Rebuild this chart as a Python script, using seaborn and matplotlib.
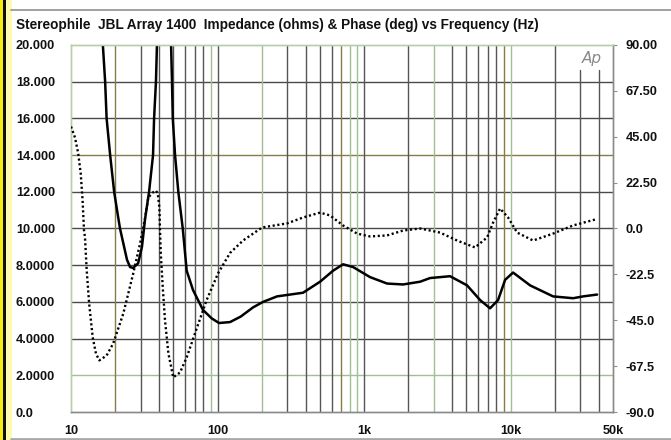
import matplotlib
matplotlib.use("Agg")
import matplotlib.pyplot as plt
import seaborn as sns
from matplotlib.patches import Rectangle
from matplotlib.lines import Line2D

# ---------------- data ----------------
imp_freq = [14.8, 16.5, 17.1, 17.5, 18.5, 19.7, 20.9, 21.6, 24.1, 25.3, 26.5, 28.7,
            30.5, 32.0, 34.1, 36.3, 36.9, 38.0, 38.6, 43.1, 48.2, 48.9, 49.5, 51.3,
            54.0, 57.9, 61.6, 68.0, 79.6, 91.3, 102.4, 121.7, 144, 174.7, 204.4,
            254.7, 312.6, 383.4, 500.9, 614.5, 719, 841, 1099, 1436, 1846, 2412,
            2822, 3864, 5049, 6193, 7246, 8215, 9174, 10403, 13590, 19505, 26710,
            31250, 38950]
imp_ohms = [25, 20, 18, 16, 14, 12, 10.7, 10.0, 8.3, 7.9, 7.85, 8.1,
            9.0, 10.5, 12, 14, 16, 18, 20, 40, 20, 18, 16, 14,
            12, 10, 7.7, 6.65, 5.56, 5.1, 4.85, 4.9, 5.2, 5.7, 6.0,
            6.3, 6.4, 6.5, 7.1, 7.7, 8.05, 7.9, 7.35, 7.0, 6.95, 7.1,
            7.3, 7.4, 6.9, 6.1, 5.65, 6.1, 7.2, 7.6, 6.9, 6.3, 6.2,
            6.3, 6.4]

phase_freq = [10.0, 10.65, 11.2, 11.65, 12.0, 12.27, 12.46, 12.8, 13.3, 14.06, 14.8,
              15.6, 17.5, 19.4, 22.75, 26.6, 29.6, 32.0, 33.7, 36.1, 37.9, 39.1,
              40.1, 40.5, 41.0, 42.3, 43.8, 46.2, 49.9, 55.5, 61.6, 72.1, 84.4,
              100.8, 121.7, 149.3, 201.3, 298.2, 383.4, 500.9, 586.2, 719, 896,
              1099, 1436, 1846, 2412, 3302, 4313, 5723, 6912, 7597, 8480, 9614,
              11080, 14250, 19505, 26710, 37750]
phase_deg = [50, 44.6, 36.8, 27, 13.7, -1, -4.4, -20.6, -36.8, -53.4, -61.3,
             -64.7, -62.3, -56.4, -41.7, -22, -7.4, 5, 15.2, 17.6, 18.6, 17.2,
             10.3, -1, -12.3, -29, -45, -61.3, -73, -70.6, -63.2, -49, -35,
             -22, -12, -5.9, 0.5, 2.5, 5.4, 7.8, 6.4, 1.5, -2.5,
             -3.9, -3.4, -1, 0, -2, -5.9, -9.3, -4.4, 2.9, 9.8, 5.4,
             -2, -5.9, -2.5, 1.5, 4.4]

left_ticks = [0, 2, 4, 6, 8, 10, 12, 14, 16, 18, 20]
left_labels = ["0.0", "2.0000", "4.0000", "6.0000", "8.0000", "10.000",
               "12.000", "14.000", "16.000", "18.000", "20.000"]
right_ticks = [-90, -67.5, -45, -22.5, 0, 22.5, 45, 67.5, 90]
right_labels = ["-90.0", "-67.5", "-45.0", "-22.5", "0.0", "22.50", "45.00", "67.50", "90.00"]
x_ticks = [10, 100, 1000, 10000, 50000]
x_labels = ["10", "100", "1k", "10k", "50k"]

title = "Stereophile  JBL Array 1400  Impedance (ohms) & Phase (deg) vs Frequency (Hz)"

# ---------------- style ----------------
sns.set_style("white")
plt.rcParams['font.family'] = ['Liberation Sans', 'DejaVu Sans']

W, H = 671, 440
fig = plt.figure(figsize=(W / 100, H / 100), dpi=100)
fig.patch.set_facecolor("white")

ax = fig.add_axes([71 / W, 28 / H, 542 / W, 367 / H])
ax.set_xscale("log")
ax.set_xlim(10, 50000)
ax.set_ylim(0, 20)
ax2 = ax.twinx()
ax2.set_ylim(-90, 90)

grid_dark = "#555555"
olive = "#877c45"
green = "#9fc095"

sns.lineplot(x=imp_freq, y=imp_ohms, ax=ax, color="black", lw=1.8, sort=False,
             zorder=3)
sns.lineplot(x=phase_freq, y=phase_deg, ax=ax2, color="black", lw=1.7, sort=False,
             linestyle=(0, (0.9, 1.1)), dash_capstyle="butt", zorder=3)

for a in (ax, ax2):
    a.set_xlabel("")
    a.set_ylabel("")

ax.set_xticks(x_ticks)
ax.set_xticklabels(x_labels)
ax.xaxis.set_minor_locator(matplotlib.ticker.NullLocator())
ax.set_yticks(left_ticks)
ax.set_yticklabels(left_labels)
ax2.set_yticks(right_ticks)
ax2.set_yticklabels(right_labels)

# vertical grid lines (decade subdivisions)
special = {20: olive, 9000: olive, 700: olive, 200: green, 800: green, 900: green,
           10000: green, 90: green, 3000: green}
for d in [10, 100, 1000, 10000]:
    for m in range(1, 10):
        f = m * d
        if f <= 10 or f >= 50000:
            continue
        c = special.get(f, grid_dark)
        ymax = 1.0
        if f in (30000, 40000):
            ymax = (412 - 70) / 367
        ax.axvline(f, ymin=0, ymax=ymax, color=c, lw=1.0, zorder=1)

# horizontal grid lines via y grid
ax.yaxis.grid(True, which="major", color="#4a4a4a", lw=1.0)
ax.xaxis.grid(False)
ax2.grid(False)
ax.set_axisbelow(True)
for t, v in zip(ax.yaxis.get_major_ticks(), left_ticks):
    if v == 14:
        t.gridline.set_color(olive)
    elif v == 2:
        t.gridline.set_color(green)
    elif v in (0, 20):
        t.gridline.set_visible(False)

for lab in ax.get_xticklabels() + ax.get_yticklabels() + ax2.get_yticklabels():
    lab.set_fontsize(9.2)
    lab.set_fontweight("bold")
    lab.set_color("#111111")
for lab in ax.get_yticklabels():
    lab.set_horizontalalignment("left")

ax.tick_params(axis="x", which="both", length=0, pad=9.0)
ax.tick_params(axis="y", length=0, pad=55 * 0.72)
ax2.tick_params(axis="y", length=3.0, width=0.8, color="#909090", pad=6.2, direction="out")
ax2.tick_params(axis="x", length=0)

for a in (ax, ax2):
    for s in a.spines.values():
        s.set_linewidth(1.0)
    a.spines["left"].set_color("#b5d0a8")
    a.spines["top"].set_color("#b5d0a8")
    a.spines["bottom"].set_color("#8a8a8a")
    a.spines["right"].set_color("#8a8a8a")

# title
fig.text(16 / W, 1 - 25 / H, title, fontsize=9.8, fontweight="bold", ha="left",
         va="center", color="#111111")

# Ap logo
fig.text(592 / W, 1 - 58 / H, "Ap", fontsize=11, style="italic", color="#8a8a8a",
         ha="center", va="center", family="DejaVu Sans", fontweight="light")

# frame decorations
fig.add_artist(Rectangle((0, 0), 3 / W, 1, transform=fig.transFigure,
                         facecolor="#f5ec10", edgecolor="none"))
fig.add_artist(Rectangle((3 / W, 0), 2.5 / W, 1, transform=fig.transFigure,
                         facecolor="#111111", edgecolor="none"))
fig.add_artist(Rectangle((5.5 / W, 0), 6 / W, 1, transform=fig.transFigure,
                         facecolor="#fdfbb0", edgecolor="none"))
fig.add_artist(Line2D([11 / W, 1], [1 - 10.5 / H, 1 - 10.5 / H], transform=fig.transFigure,
                      color="#a0a0a0", lw=1.4))
fig.add_artist(Line2D([11 / W, 1], [1.5 / H, 1.5 / H], transform=fig.transFigure,
                      color="#a8a8a8", lw=2.0))

fig.savefig("out.png", dpi=100)
